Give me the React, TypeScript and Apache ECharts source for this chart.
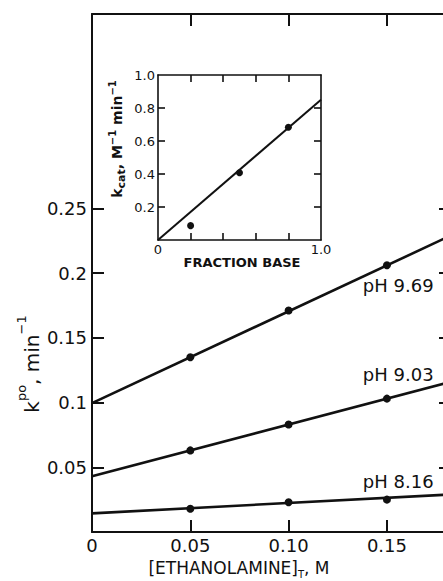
import React, { useEffect, useRef } from 'react';
import * as echarts from 'echarts';

// ---- main plot data ----
const ethanolamineM = [0.05, 0.1, 0.15];
const kpoPH969 = [0.135, 0.171, 0.206];
const kpoPH903 = [0.063, 0.083, 0.103];
const kpoPH816 = [0.018, 0.023, 0.025];

// fitted straight lines: start (x = 0) and end (right edge) values
const fitX = [0, 0.1826];
const fitPH969 = [0.0995, 0.229];
const fitPH903 = [0.043, 0.116];
const fitPH816 = [0.0144, 0.029];

const phLabels = ['pH 9.69', 'pH 9.03', 'pH 8.16'];
const phLabelX = 0.174;
const phLabelY = [0.19, 0.1215, 0.0387];

const xTickValues = [0, 0.05, 0.1, 0.15];
const xInnerTicks = [0.05, 0.1, 0.15];
const yTickValues = [0.05, 0.1, 0.15, 0.2, 0.25];

// ---- inset data ----
const fractionBase = [0.2, 0.5, 0.8];
const kcat = [0.087, 0.408, 0.683];
const insetFitX = [0, 1];
const insetFitY = [0, 0.85];
const insetXLabels = [0, 1];
const insetYLabels = [0.2, 0.4, 0.6, 0.8, 1.0];
const insetTicks = [0.2, 0.4, 0.6, 0.8];

const FONT = 'DejaVu Sans';
const INK = '#111';

export default function App() {
  const ref = useRef<HTMLDivElement>(null);

  useEffect(() => {
    if (!ref.current) return;
    const chart = echarts.init(ref.current, undefined, { renderer: 'svg' });

    const mainLine = { show: true, onZero: false, lineStyle: { color: INK, width: 2 } };
    const insetLine = { show: true, onZero: false, lineStyle: { color: INK, width: 1.6 } };
    const mainTick = (vals: number[]) => ({
      show: true,
      inside: true,
      length: 12,
      customValues: vals,
      lineStyle: { color: INK, width: 2 },
    });
    const insetTick = (vals: number[]) => ({
      show: true,
      inside: true,
      length: 7,
      customValues: vals,
      lineStyle: { color: INK, width: 1.6 },
    });

    const option: any = {
      animation: false,
      backgroundColor: '#fff',
      grid: [
        { left: 92, top: 14, width: 359, height: 518 },
        { left: 158, top: 75, width: 163, height: 165 },
      ],
      xAxis: [
        {
          gridIndex: 0,
          type: 'value',
          position: 'bottom',
          min: 0,
          max: 0.1826,
          axisLine: mainLine,
          axisTick: mainTick(xInnerTicks),
          axisLabel: {
            customValues: xTickValues,
            formatter: (v: number) => (v === 0 ? '0' : v.toFixed(2)),
            fontSize: 18,
            fontFamily: FONT,
            color: INK,
            margin: 4,
          },
          splitLine: { show: false },
        },
        {
          gridIndex: 0,
          type: 'value',
          position: 'top',
          min: 0,
          max: 0.1826,
          axisLine: mainLine,
          axisTick: mainTick(xInnerTicks),
          axisLabel: { show: false },
          splitLine: { show: false },
        },
        {
          gridIndex: 1,
          type: 'value',
          position: 'bottom',
          min: 0,
          max: 1,
          axisLine: insetLine,
          axisTick: insetTick(insetTicks),
          axisLabel: {
            customValues: insetXLabels,
            formatter: (v: number) => (v === 0 ? '0' : v.toFixed(1)),
            fontSize: 13,
            fontFamily: FONT,
            color: INK,
            margin: 3,
          },
          splitLine: { show: false },
        },
        {
          gridIndex: 1,
          type: 'value',
          position: 'top',
          min: 0,
          max: 1,
          axisLine: insetLine,
          axisTick: insetTick(insetTicks),
          axisLabel: { show: false },
          splitLine: { show: false },
        },
      ],
      yAxis: [
        {
          gridIndex: 0,
          type: 'value',
          position: 'left',
          min: 0,
          max: 0.4,
          axisLine: mainLine,
          axisTick: mainTick(yTickValues),
          axisLabel: {
            customValues: yTickValues,
            formatter: (v: number) => String(v),
            fontSize: 18,
            fontFamily: FONT,
            color: INK,
            margin: 5,
          },
          splitLine: { show: false },
        },
        {
          gridIndex: 0,
          type: 'value',
          position: 'right',
          min: 0,
          max: 0.4,
          axisLine: mainLine,
          axisTick: mainTick(yTickValues),
          axisLabel: { show: false },
          splitLine: { show: false },
        },
        {
          gridIndex: 1,
          type: 'value',
          position: 'left',
          min: 0,
          max: 1,
          axisLine: insetLine,
          axisTick: insetTick(insetTicks),
          axisLabel: {
            customValues: insetYLabels,
            formatter: (v: number) => v.toFixed(1),
            fontSize: 13,
            fontFamily: FONT,
            color: INK,
            margin: 3,
          },
          splitLine: { show: false },
        },
        {
          gridIndex: 1,
          type: 'value',
          position: 'right',
          min: 0,
          max: 1,
          axisLine: insetLine,
          axisTick: insetTick(insetTicks),
          axisLabel: { show: false },
          splitLine: { show: false },
        },
      ],
      series: [
        ...[fitPH969, fitPH903, fitPH816].map((fy) => ({
          type: 'line',
          xAxisIndex: 0,
          yAxisIndex: 0,
          data: fitX.map((x, i) => [x, fy[i]]),
          showSymbol: false,
          lineStyle: { color: INK, width: 2.6 },
          clip: true,
          silent: true,
        })),
        ...[kpoPH969, kpoPH903, kpoPH816].map((ys) => ({
          type: 'scatter',
          xAxisIndex: 0,
          yAxisIndex: 0,
          data: ethanolamineM.map((x, i) => [x, ys[i]]),
          symbolSize: 8,
          itemStyle: { color: INK, opacity: 1 },
          silent: true,
        })),
        {
          type: 'scatter',
          xAxisIndex: 0,
          yAxisIndex: 0,
          data: phLabelY.map((y, i) => ({ value: [phLabelX, y], name: phLabels[i] })),
          symbolSize: 1,
          itemStyle: { color: 'rgba(0,0,0,0)', opacity: 1 },
          label: {
            show: true,
            position: 'left',
            distance: 0,
            formatter: '{b}',
            fontSize: 18,
            fontFamily: FONT,
            color: INK,
            opacity: 1,
          },
          silent: true,
        },
        {
          type: 'line',
          xAxisIndex: 2,
          yAxisIndex: 2,
          data: insetFitX.map((x, i) => [x, insetFitY[i]]),
          showSymbol: false,
          lineStyle: { color: INK, width: 2 },
          silent: true,
        },
        {
          type: 'scatter',
          xAxisIndex: 2,
          yAxisIndex: 2,
          data: fractionBase.map((x, i) => [x, kcat[i]]),
          symbolSize: 7,
          itemStyle: { color: INK, opacity: 1 },
          silent: true,
        },
      ],
      graphic: [
        {
          type: 'text',
          x: 28,
          y: 364,
          rotation: Math.PI / 2,
          style: {
            text: '{m|k}{s|po}{m|, min}{s|−1}',
            align: 'center',
            verticalAlign: 'middle',
            fill: INK,
            rich: {
              m: { fontSize: 20, fontFamily: FONT, lineHeight: 27, verticalAlign: 'bottom', fill: INK },
              s: { fontSize: 13, fontFamily: FONT, lineHeight: 12, verticalAlign: 'top', fill: INK },
            },
          },
        },
        {
          type: 'text',
          x: 239,
          y: 569,
          style: {
            text: '{m|[ETHANOLAMINE]}{b|T}{m|, M}',
            align: 'center',
            verticalAlign: 'middle',
            fill: INK,
            rich: {
              m: { fontSize: 17, fontFamily: FONT, lineHeight: 20, verticalAlign: 'top', fill: INK },
              b: { fontSize: 10, fontFamily: FONT, lineHeight: 10, verticalAlign: 'bottom', fill: INK },
            },
          },
        },
        {
          type: 'text',
          x: 117,
          y: 139,
          rotation: Math.PI / 2,
          style: {
            text: '{m|k}{b|cat}{m|, M}{s|−1}{m| min}{s|−1}',
            align: 'center',
            verticalAlign: 'middle',
            fill: INK,
            rich: {
              m: { fontSize: 14, fontWeight: 'bold', fontFamily: FONT, lineHeight: 19, verticalAlign: 'middle', fill: INK },
              s: { fontSize: 10, fontWeight: 'bold', fontFamily: FONT, lineHeight: 9, verticalAlign: 'top', fill: INK },
              b: { fontSize: 11, fontWeight: 'bold', fontFamily: FONT, lineHeight: 9, verticalAlign: 'bottom', fill: INK },
            },
          },
        },
        {
          type: 'text',
          x: 242,
          y: 262,
          style: {
            text: 'FRACTION BASE',
            align: 'center',
            verticalAlign: 'middle',
            fontSize: 13,
            fontWeight: 'bold',
            fontFamily: FONT,
            fill: INK,
          },
        },
      ],
    };

    chart.setOption(option);
    return () => chart.dispose();
  }, []);

  return (
    <div
      style={{
        position: 'fixed',
        left: 0,
        top: 0,
        width: 443,
        height: 581,
        overflow: 'hidden',
        background: '#fff',
      }}
    >
      <div ref={ref} style={{ width: 460, height: 581 }} />
    </div>
  );
}
